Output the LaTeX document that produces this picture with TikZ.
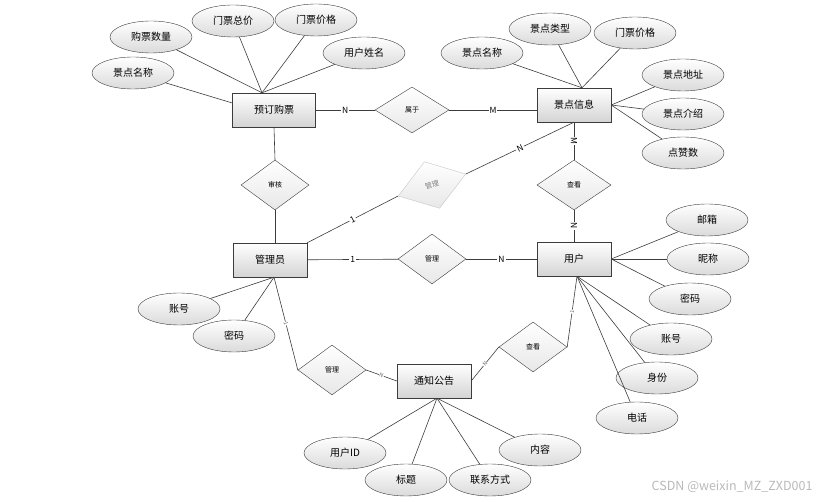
\documentclass[tikz,border=0pt]{standalone}
\usepackage{fontspec}
\setmainfont{Noto Sans CJK SC}
\definecolor{linegray}{RGB}{60,60,60}
\definecolor{fillgray}{RGB}{212,212,212}
\usetikzlibrary{positioning,shapes.geometric,calc}
\tikzset{
  ent/.style  = {rectangle, draw=linegray, minimum width=74pt,
                 minimum height=34pt, inner sep=1pt,
                 top color=white, bottom color=fillgray,
                 font=\fontsize{10}{12}\selectfont},
  attr/.style = {ellipse, draw=linegray, minimum width=82pt,
                 minimum height=32pt, inner sep=0pt,
                 top color=white, bottom color=fillgray!85,
                 font=\fontsize{10}{12}\selectfont},
  rel/.style  = {diamond, draw=linegray, minimum width=68pt,
                 minimum height=50pt, inner sep=0pt,
                 top color=white, bottom color=fillgray!55,
                 font=\fontsize{7}{8}\selectfont},
  conn/.style = {draw=linegray, line width=0.6pt},
  card/.style = {fill=white, inner sep=1pt, font=\fontsize{8.5}{9}\selectfont},
  tinycard/.style = {fill=white, inner sep=0.4pt, text=gray!80!black,
                     font=\fontsize{5.5}{6}\selectfont, sloped}
}

\begin{document}
\begin{tikzpicture}[x=1pt, y=-1pt]
    \useasboundingbox (0,0) rectangle (827,502);

    % entities
    \node[ent, minimum width=83pt] (ydgp) at (274,110) {预订购票};
    \node[ent] (jdxx) at (574,105) {景点信息};
    \node[ent] (gly)  at (270,260) {管理员};
    \node[ent] (yh)   at (574,259) {用户};
    \node[ent] (tzgg) at (434,381) {通知公告};

    % relations
    \node[rel, minimum width=74pt, minimum height=46pt] (shuyu) at (412,110) {属于};
    \node[rel] (shenhe) at (275,185) {审核};
    \node[rel, minimum width=71pt, minimum height=49pt, rotate=18,
          draw=gray!45, text=gray] (gljd) at (432,185) {管理};
    \node[rel, minimum width=74pt] (ckjd) at (574,185) {查看};
    \node[rel] (glyh) at (432,259) {管理};
    \node[rel] (glgg) at (332,370) {管理};
    \node[rel] (ckgg) at (533,347) {查看};

    % attributes of 预订购票
    \node[attr] (gpsl) at (151,37) {购票数量};
    \node[attr] (mpzj) at (233,21) {门票总价};
    \node[attr] (mpjg) at (316,20) {门票价格};
    \node[attr] (yhxm) at (364,53) {用户姓名};
    \node[attr] (jdmc) at (133,73) {景点名称};

    % attributes of 景点信息
    \node[attr] (jdlx)  at (550,29) {景点类型};
    \node[attr] (mpjg2) at (635,33) {门票价格};
    \node[attr] (jdmc2) at (482,53) {景点名称};
    \node[attr] (jddz)  at (683,75) {景点地址};
    \node[attr] (jdjs)  at (683,114) {景点介绍};
    \node[attr] (dzs)   at (683,153) {点赞数};

    % attributes of 用户
    \node[attr] (yx) at (707,220) {邮箱};
    \node[attr] (nc) at (708,259) {昵称};
    \node[attr] (mm) at (690,299) {密码};
    \node[attr] (zh) at (671,339) {账号};
    \node[attr] (sf) at (657,378) {身份};
    \node[attr] (dh) at (637,418) {电话};

    % attributes of 管理员
    \node[attr] (glzh) at (179,309) {账号};
    \node[attr] (glmm) at (234,336) {密码};

    % attributes of 通知公告
    \node[attr] (yhid) at (345,453) {用户ID};
    \node[attr] (bt)   at (406,480) {标题};
    \node[attr] (lxfs) at (490,480) {联系方式};
    \node[attr] (nr)   at (540,450) {内容};

    % meeting points on the entities
    \coordinate (ydgp-t) at ([xshift=-12pt]ydgp.north);
    \coordinate (jdxx-t) at ([xshift=8pt]jdxx.north);
    \coordinate (yh-b)   at ([xshift=3pt]yh.south);
    \coordinate (gly-b)  at ([xshift=4pt]gly.south);
    \coordinate (tzgg-b) at ([xshift=3pt]tzgg.south);

    \foreach \a in {gpsl,mpzj,mpjg,yhxm}
      \draw[conn] (\a) -- (ydgp-t);
    \draw[conn] (jdmc) -- ([yshift=7pt]ydgp.west);
    \foreach \a in {jdlx,mpjg2,jdmc2}
      \draw[conn] (\a) -- (jdxx-t);
    \foreach \a in {jddz,jdjs,dzs}
      \draw[conn] (\a) -- (jdxx.east);
    \foreach \a in {yx,nc,mm}
      \draw[conn] (\a) -- (yh.east);
    \foreach \a in {zh,sf,dh}
      \draw[conn] (\a) -- (yh-b);
    \foreach \a in {glzh,glmm}
      \draw[conn] (\a) -- (gly-b);
    \foreach \a in {yhid,bt,lxfs,nr}
      \draw[conn] (\a) -- (tzgg-b);

    % relationship lines
    \draw[conn] (ydgp) -- node[card]{N} (shuyu);
    \draw[conn] (shuyu) -- node[card]{M} (shuyu -| jdxx.west);
    \draw[conn] (jdxx.south) -- node[card, rotate=-90]{M} (ckjd.north);
    \draw[conn] (ckjd.south) -- node[card, rotate=-90]{N} (yh.north);
    \draw[conn] (ydgp.south) -- (shenhe.north);
    \draw[conn] (shenhe.south) -- (shenhe.south |- gly.north);
    \draw[conn] (gly.north east) -- node[card, sloped]{1} (gljd.west);
    \draw[conn] (gljd.east) -- node[card, sloped]{N} (jdxx.south);
    \draw[conn] (gly) -- node[card]{1} (glyh);
    \draw[conn] (glyh) -- node[card]{N} (yh);
    \draw[conn] (gly-b) -- node[tinycard]{1} (glgg.west);
    \draw[conn] (glgg.east) -- node[tinycard]{N} (tzgg.west);
    \draw[conn] (yh-b) -- node[tinycard]{1} (ckgg.east);
    \draw[conn] (ckgg.west) -- node[tinycard]{N} (tzgg.east);

    \node[anchor=east, text=gray!55, font=\fontsize{12.5}{14}\selectfont]
      (wm) at (816,487) {CSDN @weixin\_MZ\_ZXD001};
\end{tikzpicture}
\end{document}
